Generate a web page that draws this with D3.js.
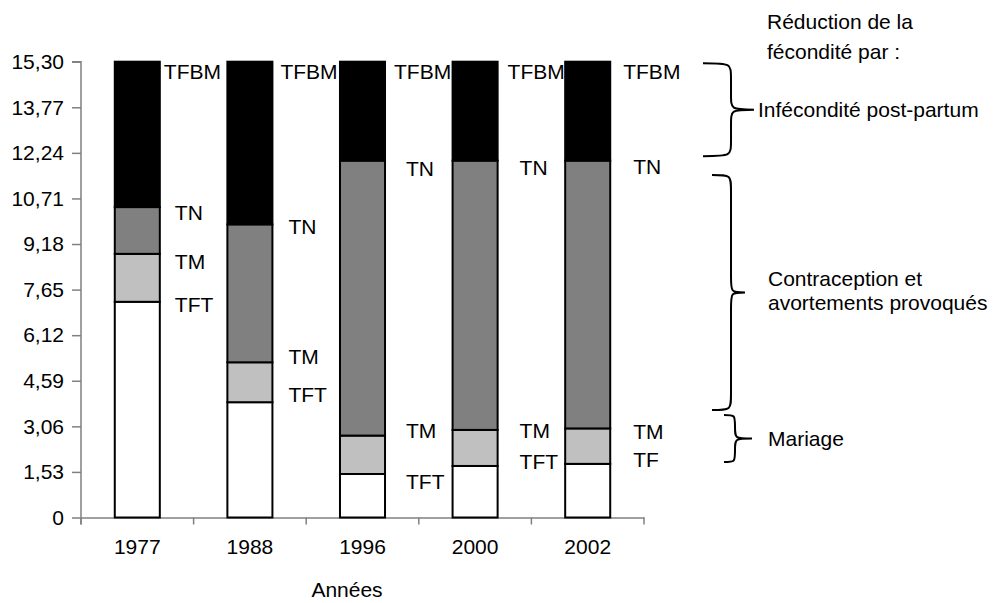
<!DOCTYPE html>
<html><head><meta charset="utf-8">
<script src="https://cdn.jsdelivr.net/npm/d3@7"></script>
<style>
body{margin:0;background:#fff;}
text{font-family:"Liberation Sans",Arial,sans-serif;fill:#000;}
</style></head>
<body><svg id="c" width="996" height="603"></svg>
<script>
// Data: cumulative levels (children per woman)
const years = ["1977","1988","1996","2000","2002"];
const tft  = [7.24, 3.87, 1.46, 1.73, 1.80];   // Taux de fécondité total
const tm   = [8.85, 5.21, 2.75, 2.94, 2.99];   // avec effet du mariage
const tn   = [10.42, 9.84, 11.98, 11.98, 11.98]; // fécondité naturelle
const tfbm = [15.30, 15.30, 15.30, 15.30, 15.30]; // fécondité biologique max
const yTicks = [0, 1.53, 3.06, 4.59, 6.12, 7.65, 9.18, 10.71, 12.24, 13.77, 15.30];
const segNames = ["TFT","TM","TN","TFBM"];
const segColors = ["#ffffff","#c0c0c0","#808080","#000000"];
const lastLabel = ["TFT","TFT","TFT","TFT","TF"];

const svg = d3.select("#c");
const margin = {left:81, right:352, top:61.7, bottom:85.5};
const W = 996, H = 603;
const x = d3.scaleBand().domain(years).range([margin.left, W - margin.right]).paddingInner(0).paddingOuter(0);
const y = d3.scaleLinear().domain([0, 15.30]).range([H - margin.bottom, margin.top]);
const barW = x.bandwidth() * 0.4;
const fs = 21;

// Build segments
const rows = years.map((yr,i)=>{
  const levels = [0, tft[i], tm[i], tn[i], tfbm[i]];
  return segNames.map((n,k)=>({year:yr, name:n, y0:levels[k], y1:levels[k+1], color:segColors[k]}));
}).flat();

// Axes
const yAxis = d3.axisLeft(y).tickValues(yTicks).tickSize(9).tickPadding(8)
  .tickFormat(d => d === 0 ? "0" : d3.format(".2f")(d).replace(".", ","));
const gy = svg.append("g").attr("transform",`translate(${margin.left},0)`).call(yAxis);
gy.select(".domain").attr("stroke","#808080").attr("stroke-width",1.5)
  .attr("d", `M-9,${y(15.30)}H0V${y(0)+7}`);
gy.selectAll(".tick line").attr("stroke","#808080").attr("stroke-width",1.5);
gy.selectAll(".tick text").style("font-size", fs+"px").attr("fill","#000");

const xAxis = d3.axisBottom(x).tickSize(0).tickPadding(22);
const gx = svg.append("g").attr("transform",`translate(0,${y(0)})`).call(xAxis);
gx.select(".domain").attr("stroke","#808080").attr("stroke-width",1.5);
gx.selectAll(".tick text").style("font-size", fs+"px").attr("fill","#000");
// band-boundary tick marks
const bounds = years.map(d=>x(d)).concat([x(years[years.length-1]) + x.bandwidth()]);
gx.selectAll(".bt").data(bounds).enter().append("line")
  .attr("x1",d=>d).attr("x2",d=>d).attr("y1",0).attr("y2",7)
  .attr("stroke","#808080").attr("stroke-width",1.5);

// Bars
svg.append("g").selectAll("rect").data(rows).enter().append("rect")
  .attr("x", d => x(d.year) + (x.bandwidth()-barW)/2)
  .attr("width", barW)
  .attr("y", d => y(d.y1))
  .attr("height", d => y(d.y0) - y(d.y1))
  .attr("fill", d => d.color)
  .attr("stroke", "#000").attr("stroke-width", 2);

// Segment labels (placement of the text boxes)
const labelY = {
  TFBM: [14.98, 14.98, 14.98, 14.98, 14.98],
  TN:   [10.22, 9.76, 11.72, 11.73, 11.78],
  TM:   [8.59, 5.40, 2.91, 2.91, 2.88],
  TFT:  [7.13, 4.11, 1.20, 1.87, 1.93]
};
const tfbmDx = [4, 8, 9, 10, 13];
const labDx = [15, 16, 21, 22, 23];
const labs = [];
years.forEach((yr,i)=>{
  const right = x(yr) + (x.bandwidth()+barW)/2;
  labs.push({t:"TFBM", x:right+tfbmDx[i], y:y(labelY.TFBM[i])});
  labs.push({t:"TN", x:right+labDx[i], y:y(labelY.TN[i])});
  labs.push({t:"TM", x:right+labDx[i], y:y(labelY.TM[i])});
  labs.push({t:lastLabel[i], x:right+labDx[i], y:y(labelY.TFT[i])});
});
svg.append("g").selectAll("text").data(labs).enter().append("text")
  .attr("x", d=>d.x).attr("y", d=>d.y).attr("dy","0.35em")
  .style("font-size", fs+"px").text(d=>d.t);

// Axis title
svg.append("text").attr("x", 347).attr("y", 590).attr("dy","0.35em")
  .attr("text-anchor","middle").style("font-size", fs+"px").text("Années");

// Braces
function brace(x0, xv, xt, yTop, yBot){
  const ym = (yTop + yBot)/2, r = Math.min(16, (yBot-yTop)/4);
  return `M${x0},${yTop} C${xv},${yTop} ${xv},${yTop} ${xv},${yTop+r}` +
         ` L${xv},${ym-r} C${xv},${ym} ${xv},${ym} ${xt},${ym}` +
         ` C${xv},${ym} ${xv},${ym} ${xv},${ym+r}` +
         ` L${xv},${yBot-r} C${xv},${yBot} ${xv},${yBot} ${x0},${yBot}`;
}
const braces = [
  {x0:703, xv:731, xt:754, top:15.25, bot:12.13, lines:["Infécondité post-partum"], tx:758},
  {x0:712, xv:731, xt:745, top:11.50, bot:3.61, lines:["Contraception et","avortements provoqués"], tx:768},
  {x0:724, xv:735, xt:752, top:3.44, bot:1.86, lines:["Mariage"], tx:768}
];
braces.forEach(b=>{
  svg.append("path").attr("d", brace(b.x0, b.xv, b.xt, y(b.top), y(b.bot)))
    .attr("fill","none").attr("stroke","#000").attr("stroke-width",2);
  const ym = (y(b.top)+y(b.bot))/2;
  const n = b.lines.length;
  b.lines.forEach((l,k)=>{
    svg.append("text").attr("x", b.tx).attr("y", ym + (k-(n-1)/2)*24 + (n>1? -2:0)).attr("dy","0.35em")
      .style("font-size", fs+"px").text(l);
  });
});

svg.append("text").attr("x",767).attr("y",22).attr("dy","0.35em").style("font-size",fs+"px").text("Réduction de la");
svg.append("text").attr("x",767).attr("y",52).attr("dy","0.35em").style("font-size",fs+"px").text("fécondité par :");
</script>
</body></html>
